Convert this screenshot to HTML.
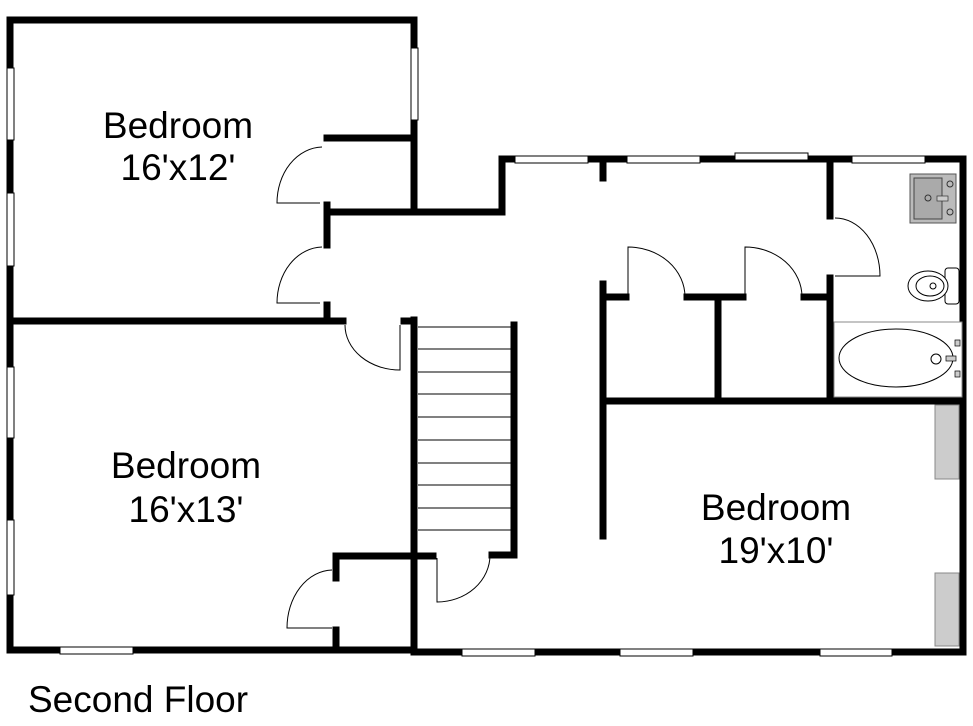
<!DOCTYPE html>
<html><head><meta charset="utf-8"><style>body{margin:0;background:#fff}svg{display:block}</style></head><body>
<svg width="973" height="726" viewBox="0 0 973 726" xmlns="http://www.w3.org/2000/svg" font-family="Liberation Sans, sans-serif">
<g stroke="#000" stroke-width="7" fill="none" stroke-linecap="square">
<path d="M10 20 H414 V212"/>
<path d="M10 20 V650 H414"/>
<path d="M10 321 H343"/>
<path d="M327 138 H414"/>
<path d="M327 205 V245 M328 212 H502 V159 H963 V652 H414"/>
<path d="M327 305 V321"/>
<path d="M404 321 H410"/>
<path d="M414 320 V652"/>
<path d="M514 325 V555 H492"/>
<path d="M336 556 H433"/>
<path d="M336 556 V578 M336 630 V648"/>
<path d="M603 159 V178"/>
<path d="M830 159 V216 M830 278 V400"/>
<path d="M603 284 V536"/>
<path d="M603 297 H626 M687 297 H743 M804 297 H830"/>
<path d="M718 297 V398"/>
<path d="M603 401 H963"/>
</g>
<g stroke="#000" stroke-width="1" fill="#fff">
<rect x="7" y="68" width="7" height="72"/><rect x="7" y="193" width="7" height="73"/>
<rect x="7" y="367" width="7" height="71"/><rect x="7" y="520" width="7" height="75"/>
<rect x="411" y="48" width="7" height="72"/>
<rect x="60" y="647" width="73" height="7"/>
<rect x="462" y="649" width="73" height="7"/><rect x="620" y="649" width="73" height="7"/><rect x="820" y="649" width="72" height="7"/>
<rect x="515" y="156" width="73" height="7"/><rect x="627" y="156" width="73" height="7"/><rect x="735" y="153" width="73" height="7"/><rect x="852" y="156" width="73" height="7"/>
</g>
<g stroke="#000" stroke-width="1">
<line x1="418" y1="327" x2="512" y2="327"/><line x1="418" y1="349" x2="512" y2="349"/><line x1="418" y1="372" x2="512" y2="372"/><line x1="418" y1="394" x2="512" y2="394"/><line x1="418" y1="417" x2="512" y2="417"/><line x1="418" y1="440" x2="512" y2="440"/><line x1="418" y1="463" x2="512" y2="463"/><line x1="418" y1="485" x2="512" y2="485"/><line x1="418" y1="508" x2="512" y2="508"/><line x1="418" y1="530" x2="512" y2="530"/>
</g>
<g stroke="#000" stroke-width="1" fill="none">
<path d="M322 147 A46 56 0 0 0 277 203 H320"/>
<path d="M322 247 A46 56 0 0 0 277 303 H320"/>
<path d="M345 325 A55 45 0 0 0 400 370 V325"/>
<path d="M437 558 V602 A53 47 0 0 0 490 555"/>
<path d="M332 570 A46 58 0 0 0 287 628 H332"/>
<path d="M628 297 V247 A57 50 0 0 1 685 297"/>
<path d="M745 297 V247 A57 50 0 0 1 802 297"/>
<path d="M835 218 A45 58 0 0 1 880 276 H835"/>
</g>
<rect x="834" y="322" width="128" height="75" fill="#fff" stroke="#888" stroke-width="1"/>
<ellipse cx="896" cy="358" rx="57" ry="29" fill="#fff" stroke="#000" stroke-width="1"/>
<circle cx="936" cy="359" r="5" fill="none" stroke="#000" stroke-width="1"/>
<rect x="946" y="356" width="10" height="5" fill="#ccc" stroke="#000" stroke-width=".7"/>
<rect x="955" y="340" width="5" height="6" fill="#ccc" stroke="#000" stroke-width=".7"/>
<rect x="955" y="371" width="5" height="6" fill="#ccc" stroke="#000" stroke-width=".7"/>
<rect x="910" y="174" width="46" height="49" fill="#bbb" stroke="#555" stroke-width="1"/>
<rect x="914" y="178" width="28" height="41" fill="#aaa" stroke="#444" stroke-width="1"/>
<circle cx="928" cy="198" r="3" fill="none" stroke="#333"/><rect x="937" y="196" width="11" height="5" fill="#ccc" stroke="#333" stroke-width=".7"/>
<circle cx="950" cy="184" r="3" fill="none" stroke="#333"/><circle cx="950" cy="212" r="3" fill="none" stroke="#333"/>
<rect x="945" y="268" width="14" height="36" rx="3" fill="#fff" stroke="#000"/>
<ellipse cx="928" cy="286" rx="20" ry="15" fill="#fff" stroke="#000"/>
<ellipse cx="930" cy="286" rx="14" ry="10" fill="none" stroke="#000"/>
<circle cx="933" cy="286" r="3" fill="none" stroke="#000"/>
<rect x="935" y="405" width="24" height="74" fill="#ccc" stroke="#888"/>
<rect x="935" y="573" width="24" height="73" fill="#ccc" stroke="#888"/>
<g fill="#000" font-size="37" text-anchor="middle">
<text x="178" y="138">Bedroom</text><text x="178" y="180">16'x12'</text>
<text x="186" y="478">Bedroom</text><text x="186" y="522">16'x13'</text>
<text x="776" y="520">Bedroom</text><text x="776" y="563">19'x10'</text>
<text x="28" y="712" text-anchor="start" font-size="37">Second Floor</text>
</g>
</svg>
</body></html>
